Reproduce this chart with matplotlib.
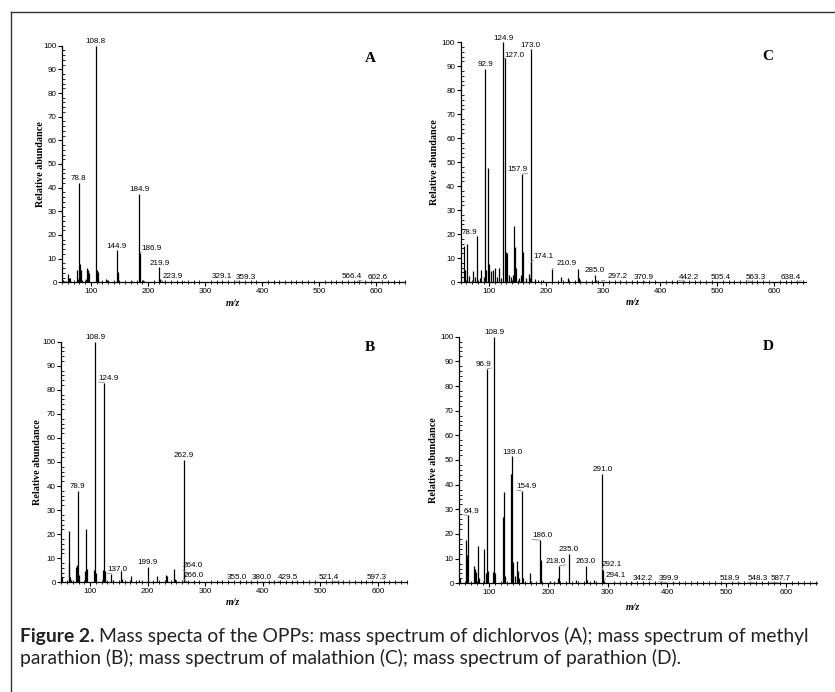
import matplotlib
matplotlib.use("Agg")
import matplotlib.pyplot as plt
from matplotlib.lines import Line2D
from matplotlib.ticker import MultipleLocator

# ---------------- data ----------------
# Panel A: dichlorvos
mz_A = [51, 53, 57, 60, 62, 64, 75, 77, 78.8, 80, 81, 83, 85, 91, 93, 95, 96,
        108.8, 110.8, 112, 113, 127, 129, 144.9, 146.9, 172, 184.9, 186.9, 191, 193,
        219.9, 221.9, 223.9, 235, 263, 329.1, 359.3, 566.4, 602.6]
int_A = [0.8, 0.5, 0.6, 3.5, 1.8, 2.0, 5.2, 1.5, 42, 1.8, 7.7, 5.0, 1.0, 1.5, 6.0, 5.0, 4.0,
         100, 5.0, 4.5, 1.5, 1.5, 0.8, 13.5, 4.5, 0.7, 37.5, 12.5, 1.0, 0.5,
         6.3, 1.5, 0.5, 0.3, 0.7, 0.5, 0.3, 0.5, 0.2]
labels_A = [108.8, 78.8, 184.9, 144.9, 186.9, 219.9, 223.9, 329.1, 359.3, 566.4, 602.6]

# Panel B: methyl parathion
mz_B = [51, 63, 64, 65, 67, 75, 77, 78.9, 80.5, 91, 93, 95, 107, 108.9, 110.8,
        123, 124.9, 126.5, 137.0, 139, 154, 156, 171, 185, 199.9, 201, 216, 232, 233,
        246, 247, 262.9, 264.0, 266.0, 280, 330, 355.0, 380.0, 429.5, 521.4, 597.3]
int_B = [2, 21.5, 8, 2, 1, 6.5, 7, 38, 3, 4.5, 22, 5.5, 5, 100, 4,
         5, 83, 4.5, 3.5, 1, 4.5, 1.5, 2.5, 0.8, 6.5, 1, 2.5, 3, 2.5,
         5.5, 1.5, 51, 4.5, 0.7, 0.3, 0.5, 0.3, 0.3, 0.3, 0.2, 0.2]
labels_B = [108.9, 124.9, 78.9, 262.9, 137.0, 199.9, 264.0, 266.0, 355.0, 380.0,
            429.5, 521.4, 597.3]

# Panel C: malathion
mz_C = [55, 58, 61, 65, 71, 75, 78.9, 83, 86, 90, 92.9, 94, 97, 99, 103, 106,
        110, 113, 117, 120, 124.9, 127.0, 129, 131, 134, 139, 141, 143, 145, 147,
        153, 155, 157.9, 159, 165, 169, 171, 173.0, 174.1, 180, 185, 195, 210.9,
        226, 239, 256, 257, 285.0, 287, 297.2, 330, 370.9, 442.2, 505.4, 563.3, 638.4]
int_C = [15, 5, 16, 2.5, 4.5, 2, 19, 1.5, 5, 2, 89, 5, 47.5, 7.5, 4.5, 5,
         6, 2, 6, 1.5, 100, 93.5, 12.5, 12, 3, 2, 3, 23.5, 14.5, 6,
         1.5, 3, 45, 12.5, 1.5, 3.5, 1.5, 97, 8.5, 1.2, 1, 0.8, 5.5,
         2, 1.7, 5.5, 1.5, 3, 1, 0.5, 0.4, 0.3, 0.3, 0.2, 0.2, 0.2]
labels_C = [124.9, 127.0, 173.0, 92.9, 157.9, 78.9, 174.1, 210.9, 285.0, 297.2,
            370.9, 442.2, 505.4, 563.3, 638.4]

# Panel D: parathion
mz_D = [51, 62, 63, 64.9, 74, 76, 78, 81, 83, 92, 95, 96.9, 99, 106, 108.9, 110.5,
        123, 125, 127, 137, 139.0, 141, 143, 147, 149, 151, 154.9, 157, 169,
        186.0, 188, 202, 216, 218.0, 235.0, 246, 263.0, 265, 277, 291.0, 292.1,
        294.1, 342.2, 399.9, 518.9, 548.3, 587.7]
int_D = [2, 17.5, 11.5, 27.5, 7, 6, 4.5, 15, 2, 14, 4, 87, 5, 4.5, 100, 4,
         27, 37, 3, 44.5, 51.5, 8.5, 3, 9, 5, 2, 37.5, 2, 4,
         17.5, 9.5, 1, 2, 7, 12, 1.5, 7, 1.5, 1.5, 44.5, 5.5,
         1, 0.3, 0.3, 0.2, 0.2, 0.2]
labels_D = [108.9, 96.9, 139.0, 154.9, 64.9, 186.0, 218.0, 235.0, 263.0, 291.0,
            292.1, 294.1, 342.2, 399.9, 518.9, 548.3, 587.7]

panel_names = ["A", "B", "C", "D"]
x_ticks = [100, 200, 300, 400, 500, 600]
y_ticks = [0, 10, 20, 30, 40, 50, 60, 70, 80, 90, 100]

# ---------------- layout / style (not data) ----------------
W, H = 835, 692
# label offsets in points (dx, dy); default is (0, 0.5)
offsets = {
    "A": {186.9: (8, 0.5), 223.9: (8, 0.5), 359.3: (5, 0.5), 566.4: (-4, 0.5)},
    "B": {124.9: (3, 0.5), 137.0: (4, 0.5), 264.0: (6, 1.5), 266.0: (5.6, 1.5),
          380.0: (7.3, 0.5), 429.5: (5.8, 0.5), 521.4: (-2.8, 0.5)},
    "C": {127.0: (7, -1), 157.9: (-3.5, 0.5), 78.9: (-5.4, 0.5), 174.1: (8.6, 1),
          210.9: (10, 1), 297.2: (11.7, 0.5), 442.2: (3, 0.5), 563.3: (2, 0.5),
          638.4: (-3.6, 0.5)},
    "D": {96.9: (-2.7, 0.5), 154.9: (3.8, 0.5), 64.9: (2.6, 0.5), 186.0: (1.5, 0.5),
          218.0: (-2.5, 1), 292.1: (6.5, 1.5), 294.1: (8.3, 1.5), 342.2: (7.2, 0.5),
          399.9: (1.3, 0.5), 518.9: (-5.5, 0.5), 548.3: (1.7, 0.5), 587.7: (1.2, 0.5)},
}
# axes boxes in pixels: left, y of 0 (from top), right, y of 100 (from top), xmax
boxes = {
    "A": (62.3, 282.3, 405.0, 45.7, 650),
    "C": (460.7, 282.0, 805.7, 42.3, 655),
    "B": (61.3, 582.3, 406.7, 341.7, 650),
    "D": (459.3, 583.3, 816.7, 336.7, 652),
}
letter_pos = {"A": (0.898, 0.948), "C": (0.891, 0.94), "B": (0.894, 0.977), "D": (0.865, 0.959)}
ylab_x = {"A": -0.065, "C": -0.077, "B": -0.069, "D": -0.071}
xlab_pos = {"A": (0.499, -0.09), "C": (0.5, -0.087), "B": (0.496, -0.086), "D": (0.485, -0.098)}

data = {
    "A": (mz_A, int_A, labels_A),
    "B": (mz_B, int_B, labels_B),
    "C": (mz_C, int_C, labels_C),
    "D": (mz_D, int_D, labels_D),
}

tick_font = ["Liberation Sans", "DejaVu Sans"]
serif = ["Liberation Serif", "DejaVu Serif"]

fig = plt.figure(figsize=(W / 100, H / 100), dpi=100)
fig.patch.set_facecolor("white")

for name in panel_names:
    l, b, r, t, xmax = boxes[name]
    ax = fig.add_axes([l / W, (H - b) / H, (r - l) / W, (b - t) / H])
    mz, inten, labs = data[name]
    ax.vlines(mz, 0, inten, colors="black", linewidth=0.9)
    ax.set_xlim(50, xmax)
    ax.set_ylim(0, 100)
    for s in ["top", "right"]:
        ax.spines[s].set_visible(False)
    for s in ["left", "bottom"]:
        ax.spines[s].set_linewidth(0.9)
    ax.set_xticks(x_ticks)
    ax.set_yticks(y_ticks)
    ax.xaxis.set_minor_locator(MultipleLocator(10))
    ax.yaxis.set_minor_locator(MultipleLocator(2))
    ax.tick_params(axis="both", which="major", labelsize=5.8, length=3, width=0.8, pad=1)
    ax.tick_params(axis="x", which="minor", length=3, width=0.6, direction="inout")
    ax.tick_params(axis="y", which="minor", length=2, width=0.6, direction="in")
    for lab in ax.get_xticklabels() + ax.get_yticklabels():
        lab.set_family(tick_font)
    lookup = dict(zip(mz, inten))
    for lm in labs:
        dx, dy = offsets[name].get(lm, (0, 0.5))
        kw = {}
        if abs(dx) > 1e-9:
            kw["arrowprops"] = dict(arrowstyle="-", color="#8a8a8a", lw=0.6,
                                    shrinkA=0, shrinkB=0,
                                    relpos=(0, 0) if dx > 0 else (1, 0))
        ax.annotate(f"{lm:.1f}", xy=(lm, lookup[lm]), xytext=(dx, dy),
                    textcoords="offset points", ha="center", va="bottom",
                    fontsize=5.8, family=tick_font, annotation_clip=False, **kw)
    lx, ly = letter_pos[name]
    ax.text(lx, ly, name, transform=ax.transAxes, ha="center", va="center",
            fontsize=11, fontweight="bold", family=serif)
    ax.text(ylab_x[name], 0.5, "Relative abundance", transform=ax.transAxes,
            rotation=90, ha="center", va="center", fontsize=7.3,
            fontweight="bold", family=serif)
    xx, xy = xlab_pos[name]
    ax.text(xx, xy, "m/z", transform=ax.transAxes, ha="center", va="center",
            fontsize=7, fontweight="bold", style="italic", family=serif)

# outer frame (left and top)
fig.add_artist(Line2D([11 / W, 11 / W], [0, 1 - 12 / H], transform=fig.transFigure,
                      color="#333333", lw=1.0))
fig.add_artist(Line2D([11 / W, 1], [1 - 12 / H, 1 - 12 / H], transform=fig.transFigure,
                      color="#333333", lw=1.0))

cap_font = ["Lato", "DejaVu Sans"]
cap_size = 13.9
line1_rest = "Mass specta of the OPPs: mass spectrum of dichlorvos (A); mass spectrum of methyl"
line2 = "parathion (B); mass spectrum of malathion (C); mass spectrum of parathion (D)."
t1 = fig.text(20 / W, 1 - 642 / H, "Figure 2.", ha="left", va="baseline",
              fontsize=cap_size, fontweight="bold", family=cap_font, color="#222222")
fig.canvas.draw()
r = fig.canvas.get_renderer()
bb = t1.get_window_extent(r)
fig.text(bb.x1 / W + 4 / W, 1 - 642 / H, line1_rest,
         ha="left", va="baseline", fontsize=cap_size, family=cap_font, color="#222222")
fig.text(20 / W, 1 - 664 / H, line2,
         ha="left", va="baseline", fontsize=cap_size, family=cap_font, color="#222222")

fig.savefig("out.png", dpi=100)
